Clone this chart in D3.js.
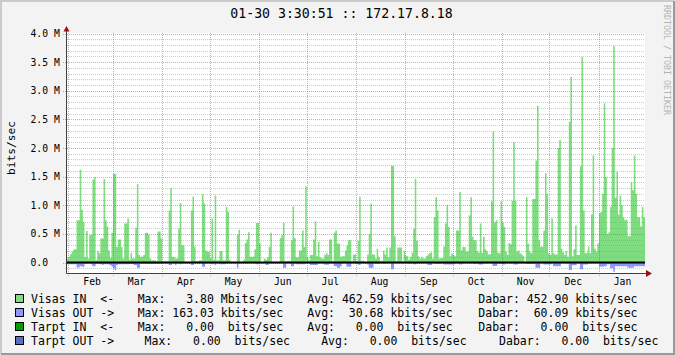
<!DOCTYPE html>
<html>
<head>
<meta charset="utf-8">
<script src="https://cdn.jsdelivr.net/npm/d3@7"></script>
<style>
  body { margin: 0; background: #f3f3f3; }
  svg { display: block; }
  text { font-family: "DejaVu Sans Mono", monospace; }
</style>
</head>
<body>
<svg id="chart"></svg>
<script>
// Graph frame (image is 675 x 355, plot area inside it)
const width = 675;
const height = 355;
const plot = { left: 67, right: 645, top: 33, bottom: 273 };

// Time span of the yearly graph
const startTime = new Date(2011, 0, 31, 3, 30, 51);
const endTime = new Date(2012, 0, 30, 3, 30, 51);

// Daily "Visas IN" averages, Mbits/sec (one value per day, Jan 31 .. Jan 29)
const visasIn = [
  0.07,0.10,0.15,0.19,0.23,0.23,0.74,0.74,1.62,0.92,
  0.71,0.09,0.55,0.07,0.48,0.48,1.45,1.49,0.04,0.20,
  0.16,0.42,0.42,1.46,0.74,0.63,0.21,0.08,0.52,1.55,
  1.55,0.27,0.40,0.40,0.27,0.07,0.68,0.68,0.77,0.05,
  0.17,0.07,0.07,0.61,1.37,0.13,0.10,0.10,0.13,0.52,
  0.52,0.49,0.07,0.04,0.04,0.04,0.02,0.54,0.54,0.42,
  0.02,0.02,0.02,0.02,0.91,1.30,0.10,0.09,0.07,0.07,
  0.59,1.04,0.30,0.30,0.01,0.01,0.01,0.01,0.91,1.15,
  0.28,0.02,0.02,0.04,0.04,1.19,1.03,0.21,0.19,0.19,
  0.07,0.77,0.05,1.17,0.04,0.04,0.20,0.20,0.04,0.04,
  0.97,0.88,0.05,0.01,0.01,0.01,0.01,0.48,0.57,0.01,
  0.01,0.05,0.34,0.40,0.53,0.10,0.10,0.10,0.23,0.69,
  0.69,0.33,0.01,0.01,0.07,0.05,0.09,0.27,0.52,0.01,
  0.01,0.01,0.01,0.01,0.43,0.48,0.69,0.02,0.02,0.03,
  0.02,0.39,0.98,0.43,0.09,0.09,0.21,0.21,0.56,0.27,
  1.33,0.10,0.04,0.13,0.13,0.40,0.72,0.11,0.36,0.09,
  0.07,0.07,0.13,0.17,0.13,0.40,0.40,0.02,0.52,0.56,
  0.33,0.33,0.10,0.11,0.11,0.21,0.30,0.39,0.39,0.02,
  0.14,0.14,0.02,0.38,1.15,0.03,0.03,0.01,0.01,0.14,
  0.50,1.03,0.14,0.14,0.07,0.24,0.10,0.03,0.03,0.21,
  0.14,0.26,0.09,0.26,1.69,1.69,0.46,0.02,0.26,0.26,
  0.26,0.02,0.20,0.12,0.11,0.05,0.10,0.17,0.59,1.46,
  0.38,0.11,0.07,0.10,0.07,0.07,0.11,0.14,0.16,0.18,
  0.07,0.79,1.14,0.91,0.07,0.08,0.08,0.28,0.68,1.00,
  0.62,0.11,0.16,0.13,0.11,0.56,0.56,1.23,0.21,0.27,
  0.27,0.19,0.19,0.82,1.14,0.45,0.39,0.39,0.20,0.17,
  0.68,0.17,0.45,0.23,0.20,0.14,0.15,1.07,2.29,0.70,
  0.74,0.17,0.16,1.07,0.70,0.62,0.19,0.13,0.34,0.32,
  1.08,2.10,1.08,0.19,0.21,0.16,0.14,0.11,0.01,1.14,
  0.33,0.19,0.16,1.11,1.11,1.78,2.74,0.39,0.27,0.28,
  0.56,1.56,1.20,0.16,0.13,0.77,0.16,0.14,0.14,2.00,
  2.14,0.24,0.18,0.13,0.20,0.10,2.46,3.24,0.11,0.23,
  0.65,0.13,0.13,1.68,3.59,0.91,0.16,0.17,0.28,0.16,
  0.84,1.87,0.24,0.19,0.33,0.86,0.88,1.20,2.78,1.49,
  0.50,0.53,0.97,2.00,3.78,1.13,1.59,0.84,1.17,1.00,
  0.79,0.74,0.75,0.46,0.46,1.40,1.26,1.87,1.20,0.79,
  0.79,0.63,0.97,0.79
];

// Daily "Visas OUT" averages, kbits/sec (drawn below zero)
const visasOut = [
  30,30,30,30,30,30,87,87,60,75,
  75,20,20,20,20,35,65,65,20,20,
  20,30,45,30,30,30,35,50,75,100,
  135,45,30,30,30,30,30,30,30,25,
  25,25,45,45,90,90,20,20,20,20,
  20,20,20,20,20,20,20,20,20,20,
  15,15,15,15,45,45,15,15,45,15,
  15,30,15,15,15,15,15,15,45,45,
  15,15,15,15,15,75,75,15,15,15,
  15,30,15,45,15,15,30,30,30,30,
  15,15,15,15,15,15,15,90,15,15,
  15,15,15,15,15,15,15,15,15,30,
  30,15,15,15,15,45,45,15,15,15,
  15,15,15,15,15,15,90,90,15,15,
  15,65,65,15,30,30,30,30,30,30,
  15,15,15,45,45,45,45,45,15,15,
  15,15,40,40,40,15,15,15,65,65,
  90,90,65,15,15,15,75,75,75,15,
  15,15,15,40,40,15,15,15,15,35,
  90,90,90,15,20,20,20,15,15,20,
  20,15,15,15,120,120,15,15,15,15,
  15,15,15,15,15,20,15,15,30,30,
  15,15,15,15,15,15,15,45,45,45,
  15,15,20,20,20,20,15,35,35,35,
  35,35,35,35,15,15,15,35,35,15,
  15,15,15,15,15,15,25,15,15,35,
  35,35,15,15,15,15,15,15,60,60,
  60,15,25,15,35,35,15,15,15,15,
  15,35,35,35,15,15,15,15,15,25,
  25,25,25,25,15,90,90,90,15,15,
  35,35,35,35,35,15,65,65,65,65,
  65,15,15,15,15,15,130,130,50,50,
  50,15,15,120,120,35,35,35,15,15,
  15,15,15,15,15,75,75,75,65,65,
  30,30,100,100,160,65,65,65,65,65,
  65,65,65,90,90,90,90,65,65,65,
  65,65,65,65
];

// Legend texts
const legendNames = ["Visas IN  <-", "Visas OUT ->", "Tarpt IN  <-", "Tarpt OUT ->"];
const legendColors = ["#80dc80", "#8c98ff", "#00a000", "#5670c6"];
const legendMax = ["Max:   3.80 Mbits/sec", "Max: 163.03 kbits/sec", "Max:   0.00  bits/sec", "Max:   0.00  bits/sec"];
const legendAvg = ["Avg: 462.59 kbits/sec", "Avg:  30.68 kbits/sec", "Avg:   0.00  bits/sec", "Avg:   0.00  bits/sec"];
const legendNow = ["Dabar: 452.90 kbits/sec", "Dabar:  60.09 kbits/sec", "Dabar:   0.00  bits/sec", "Dabar:   0.00  bits/sec"];

const titleText = "01-30 3:30:51 :: 172.17.8.18";
const yLabel = "bits/sec";
const watermark = "RRDTOOL / TOBI OETIKER";

// Y axis major ticks (bits/sec)
const yMajor = [0, 0.5e6, 1.0e6, 1.5e6, 2.0e6, 2.5e6, 3.0e6, 3.5e6, 4.0e6];

const svg = d3.select("#chart")
  .attr("width", width)
  .attr("height", height);

// Background and 3D border

svg.append("rect").attr("width", width).attr("height", height).attr("fill", "#f3f3f3");
svg.append("path").attr("d", "M1,354V1H674").attr("stroke", "#cbcbcb").attr("stroke-width", 2).attr("fill", "none");
svg.append("path").attr("d", "M1,354H674V1").attr("stroke", "#999999").attr("stroke-width", 2).attr("fill", "none");

// Scales

const x = d3.scaleTime().domain([startTime, endTime]).range([plot.left, plot.right]);
const y = d3.scaleLinear().domain([0, 4e6]).range([262.5, 33.5]);

// Plot canvas
svg.append("rect")
  .attr("x", plot.left).attr("y", plot.top)
  .attr("width", plot.right - plot.left).attr("height", plot.bottom - plot.top)
  .attr("fill", "#ffffff");

// Areas (step per day)

const dayMs = 864e5;
const inData = visasIn.map((v, i) => ({ t: new Date(+startTime + i * dayMs), v: v * 1e6 }));
inData.push({ t: endTime, v: inData[inData.length - 1].v });
const outData = visasOut.map((v, i) => ({ t: new Date(+startTime + i * dayMs), v: -v * 1e3 }));
outData.push({ t: endTime, v: outData[outData.length - 1].v });

const area = d3.area()
  .curve(d3.curveStepAfter)
  .x(d => x(d.t))
  .y0(y(0))
  .y1(d => y(d.v));

svg.append("path").datum(inData).attr("d", area).attr("fill", legendColors[0]);
svg.append("path").datum(outData).attr("d", area).attr("fill", legendColors[1]);

// Grid

const minorTicks = d3.range(-1, 41).map(k => k * 1e5).filter(v => v % 5e5 !== 0);
svg.append("g").selectAll("line")
  .data(minorTicks)
  .join("line")
  .attr("x1", plot.left).attr("x2", plot.right)
  .attr("y1", d => Math.round(y(d)) + 0.5).attr("y2", d => Math.round(y(d)) + 0.5)
  .attr("stroke", "rgba(140,140,140,0.45)")
  .attr("stroke-dasharray", "1,1");

svg.append("g").selectAll("line")
  .data(yMajor)
  .join("line")
  .attr("x1", plot.left - 4).attr("x2", plot.right)
  .attr("y1", d => Math.round(y(d)) + 0.5).attr("y2", d => Math.round(y(d)) + 0.5)
  .attr("stroke", "rgba(220,60,60,0.5)")
  .attr("stroke-dasharray", "1,1");

const months = d3.timeMonth.range(startTime, endTime);
svg.append("g").selectAll("line")
  .data(months)
  .join("line")
  .attr("x1", d => Math.round(x(d)) + 0.5).attr("x2", d => Math.round(x(d)) + 0.5)
  .attr("y1", plot.top).attr("y2", plot.bottom + 4)
  .attr("stroke", "rgba(220,60,60,0.5)")
  .attr("stroke-dasharray", "1,1");

// Zero rule
svg.append("line")
  .attr("x1", plot.left).attr("x2", plot.right)
  .attr("y1", y(0)).attr("y2", y(0))
  .attr("stroke", "#000").attr("stroke-width", 2);

// Axes with arrows

svg.append("line")
  .attr("x1", plot.left - 0.5).attr("x2", plot.left - 0.5)
  .attr("y1", plot.bottom + 0.5).attr("y2", 30)
  .attr("stroke", "#404040");
svg.append("line")
  .attr("x1", plot.left - 0.5).attr("x2", plot.right + 1)
  .attr("y1", plot.bottom + 0.5).attr("y2", plot.bottom + 0.5)
  .attr("stroke", "#404040");
svg.append("path")
  .attr("d", "M63.5,31.5L66.5,26L69.5,31.5Z")
  .attr("fill", "#9b1010");
svg.append("path")
  .attr("d", "M646,270L652,273.5L646,277Z")
  .attr("fill", "#9b1010");

// Y tick labels

svg.append("g").selectAll("text")
  .data(yMajor)
  .join("text")
  .attr("x", 30.5)
  .attr("y", d => y(d) + 3.6)
  .attr("font-size", 9.75)
  .attr("fill", "#000")
  .text(d => d === 0 ? "0.0" : d3.format(".1f")(d / 1e6) + " M");

// X month labels (centred half a month after the month start)

const labelMonths = d3.timeMonth.range(d3.timeMonth.floor(startTime), endTime)
  .map(m => new Date(+m + 15 * dayMs))
  .filter(t => t > startTime && t < endTime);
svg.append("g").selectAll("text")
  .data(labelMonths)
  .join("text")
  .attr("x", d => x(d))
  .attr("y", 285)
  .attr("text-anchor", "middle")
  .attr("font-size", 9.75)
  .text(d => d3.timeFormat("%b")(d));

// Title, axis label, watermark

svg.append("text")
  .attr("x", 341.5).attr("y", 18.3)
  .attr("text-anchor", "middle")
  .attr("font-size", 13.2)
  .text(titleText);

svg.append("text")
  .attr("transform", "translate(14.5,148) rotate(-90)")
  .attr("text-anchor", "middle")
  .attr("font-size", 11.2)
  .text(yLabel);

svg.append("text")
  .attr("transform", "translate(663.5,5) rotate(90)")
  .attr("font-size", 8.3)
  .attr("fill", "#b4b4b4")
  .text(watermark);

// Legend

const rowY = [303, 317, 331, 345];
const maxX = [137.7, 137.7, 137.7, 144.6];
const avgX = [307.3, 307.3, 307.3, 321.2];
const nowX = [478.3, 478.3, 478.3, 499.1];

const legend = svg.append("g").selectAll("g")
  .data(legendNames)
  .join("g");

legend.append("rect")
  .attr("x", 15.5).attr("y", (d, i) => rowY[i] - 8.5)
  .attr("width", 8).attr("height", 8)
  .attr("fill", (d, i) => legendColors[i])
  .attr("stroke", "#000");

legend.append("text")
  .attr("x", 31).attr("y", (d, i) => rowY[i])
  .attr("font-size", 11.5)
  .style("white-space", "pre")
  .text(d => d);

legend.append("text")
  .attr("x", (d, i) => maxX[i]).attr("y", (d, i) => rowY[i])
  .attr("font-size", 11.5)
  .style("white-space", "pre")
  .text((d, i) => legendMax[i]);

legend.append("text")
  .attr("x", (d, i) => avgX[i]).attr("y", (d, i) => rowY[i])
  .attr("font-size", 11.5)
  .style("white-space", "pre")
  .text((d, i) => legendAvg[i]);

legend.append("text")
  .attr("x", (d, i) => nowX[i]).attr("y", (d, i) => rowY[i])
  .attr("font-size", 11.5)
  .style("white-space", "pre")
  .text((d, i) => legendNow[i]);
</script>
</body>
</html>
